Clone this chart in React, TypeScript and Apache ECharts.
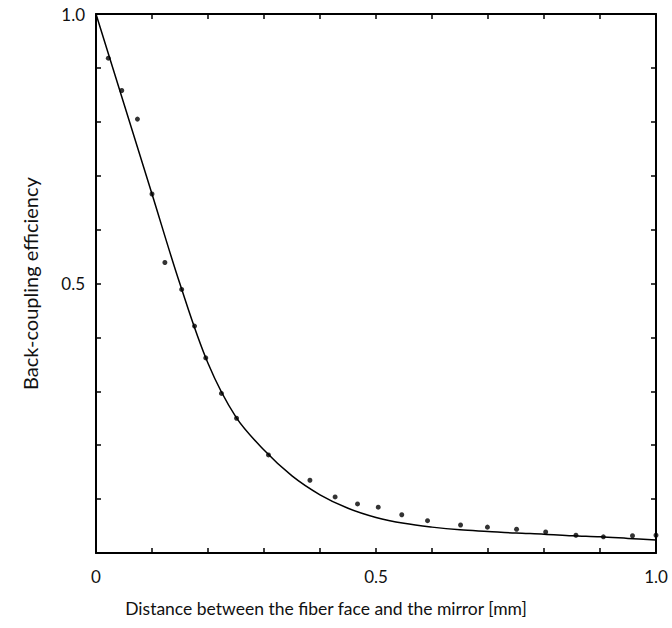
import React, { useEffect, useRef } from "react";
import * as echarts from "echarts";

const pointsX = [0.022, 0.046, 0.074, 0.1, 0.123, 0.153, 0.176, 0.196, 0.224, 0.251, 0.308, 0.382, 0.427, 0.467, 0.504, 0.546, 0.592, 0.651, 0.699, 0.751, 0.803, 0.857, 0.906, 0.958, 1.0];
const pointsY = [0.918, 0.858, 0.805, 0.666, 0.539, 0.489, 0.421, 0.362, 0.296, 0.25, 0.182, 0.135, 0.104, 0.091, 0.085, 0.071, 0.06, 0.052, 0.048, 0.044, 0.039, 0.033, 0.03, 0.032, 0.033];

const curveX = [0, 0.05, 0.1, 0.15, 0.2, 0.25, 0.3, 0.35, 0.4, 0.45, 0.5, 0.55, 0.6, 0.65, 0.7, 0.75, 0.8, 0.85, 0.9, 0.95, 1.0];
const curveY = [1.0, 0.833, 0.666, 0.499, 0.352, 0.252, 0.191, 0.143, 0.108, 0.083, 0.066, 0.055, 0.048, 0.043, 0.04, 0.037, 0.035, 0.032, 0.03, 0.027, 0.024];

const xTickLabels: Record<string, string> = { "0": "0", "0.5": "0.5", "1": "1.0" };
const yTickLabels: Record<string, string> = { "0.5": "0.5", "1": "1.0" };

const xName = "Distance between the fiber face and the mirror [mm]";
const yName = "Back-coupling efficiency";

const FONT = "Lato";

export default function App() {
  const ref = useRef<HTMLDivElement>(null);
  useEffect(() => {
    if (!ref.current) return;
    const chart = echarts.init(ref.current, undefined, { renderer: "svg" });
    const axisLine = { show: true, onZero: false, lineStyle: { color: "#000", width: 2 } };
    const axisTick = { show: true, inside: true, length: 5, lineStyle: { color: "#000", width: 1.5 } };
    const fmt = (map: Record<string, string>) => (v: number) => {
      const k = String(Math.round(v * 10) / 10);
      return map[k] ?? "";
    };
    chart.setOption({
      animation: false,
      backgroundColor: "#fff",
      grid: { left: 96, right: 16, top: 14, bottom: 75 },
      xAxis: [
        {
          type: "value",
          min: 0,
          max: 1,
          interval: 0.1,
          position: "bottom",
          axisLine,
          axisTick,
          splitLine: { show: false },
          axisLabel: {
            formatter: fmt(xTickLabels),
            color: "#111",
            fontFamily: FONT,
            fontSize: 17,
            margin: 15,
          },
          name: xName,
          nameLocation: "middle",
          nameGap: 46,
          nameTextStyle: { color: "#111", fontFamily: FONT, fontSize: 17.5, padding: [0, 100, 0, 0] },
        },
        {
          type: "value",
          min: 0,
          max: 1,
          interval: 0.1,
          position: "top",
          axisLine,
          axisTick,
          splitLine: { show: false },
          axisLabel: { show: false },
        },
      ],
      yAxis: [
        {
          type: "value",
          min: 0,
          max: 1,
          interval: 0.1,
          position: "left",
          axisLine,
          axisTick,
          splitLine: { show: false },
          axisLabel: {
            formatter: fmt(yTickLabels),
            color: "#111",
            fontFamily: FONT,
            fontSize: 17,
            margin: 11,
          },
          name: yName,
          nameLocation: "middle",
          nameGap: 56,
          nameTextStyle: { color: "#111", fontFamily: FONT, fontSize: 20 },
        },
        {
          type: "value",
          min: 0,
          max: 1,
          interval: 0.1,
          position: "right",
          axisLine,
          axisTick,
          splitLine: { show: false },
          axisLabel: { show: false },
        },
      ],
      series: [
        {
          type: "line",
          data: curveX.map((x, i) => [x, curveY[i]]),
          smooth: 0.35,
          showSymbol: false,
          symbol: "none",
          lineStyle: { color: "#000", width: 1.5 },
          z: 2,
        },
        {
          type: "scatter",
          data: pointsX.map((x, i) => [x, pointsY[i]]),
          symbol: "circle",
          symbolSize: 5,
          itemStyle: { color: "#000" },
          z: 3,
        },
      ],
    });
    return () => chart.dispose();
  }, []);
  return (
    <div
      ref={ref}
      style={{ position: "fixed", left: 0, top: 0, width: 672, height: 628, background: "#fff" }}
    />
  );
}
